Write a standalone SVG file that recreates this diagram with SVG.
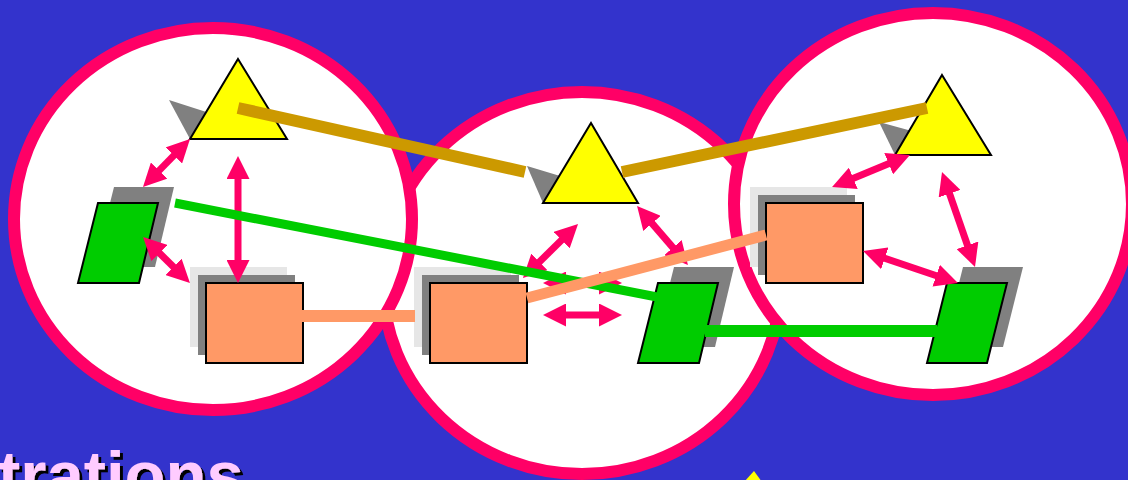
<svg xmlns="http://www.w3.org/2000/svg" width="1128" height="480" viewBox="0 0 1128 480">
<style>
.ring{fill:#ffffff;stroke:#ff0066;stroke-width:12}
.tri{fill:#ffff00;stroke:#000000;stroke-width:2;stroke-linejoin:miter}
.tsh{fill:#808080}
.par{fill:#00cc00;stroke:#000000;stroke-width:2}
.psh{fill:#808080}
.sq{fill:#ff9966;stroke:#000000;stroke-width:2}
.sh1{fill:#e6e6e6}
.sh2{fill:#808080}
.arr{stroke:#ff0066;stroke-width:7;fill:none;marker-start:url(#ah);marker-end:url(#ah)}
.gold{stroke:#cc9900;stroke-width:12;fill:none}
.grn{stroke:#00cc00;fill:none}
.org{stroke:#ff9966;fill:none}
.ttl{font-family:"Liberation Sans",Arial,sans-serif;font-weight:bold;font-size:67px;fill:#ffccff;filter:url(#tshadow)}
</style>
<defs>
<marker id="ah" markerUnits="userSpaceOnUse" viewBox="0 0 23 23" markerWidth="23" markerHeight="23" refX="5" refY="11.5" orient="auto-start-reverse">
<path d="M0,0 L23,11.5 L0,23 Z" fill="#ff0066"/>
</marker>
<filter id="tshadow" x="-10%" y="-20%" width="120%" height="140%">
<feOffset in="SourceAlpha" dx="3" dy="3" result="off"/>
<feMerge><feMergeNode in="off"/><feMergeNode in="SourceGraphic"/></feMerge>
</filter>
</defs>
<rect x="0" y="0" width="1128" height="480" fill="#3333cc"/>

<g id="circle-middle">
<ellipse class="ring" cx="582" cy="283" rx="199" ry="191"/>
<polygon class="tsh" points="527,166 580,182 543,203"/>
<polygon class="tri" points="591,123 638,203 543,203"/>
<rect class="sh1" x="414" y="267" width="97" height="80"/>
<rect class="sh2" x="422" y="275" width="97" height="80"/>
<rect class="sq" x="430" y="283" width="97" height="80"/>
<polygon class="psh" points="674,267 734,267 715,347 654,347"/>
<polygon class="par" points="658,283 718,283 699,363 638,363"/>
<line class="arr" x1="561" y1="283" x2="604" y2="283"/>
<line class="arr" x1="535.8" y1="265.4" x2="565.2" y2="236.6"/>
<line class="arr" x1="648.8" y1="219.6" x2="676.2" y2="251.4"/>
<line class="arr" x1="561" y1="315" x2="604" y2="315"/>
</g>

<g id="circle-left">
<ellipse class="ring" cx="213" cy="219" rx="199" ry="191"/>
<polygon class="tsh" points="169,100 225,118 190,139"/>
<polygon class="tri" points="238,59 287,139 190,139"/>
<polygon class="psh" points="114,187 174,187 155,267 94,267"/>
<polygon class="par" points="98,203 158,203 139,283 78,283"/>
<rect class="sh1" x="190" y="267" width="97" height="80"/>
<rect class="sh2" x="198" y="275" width="97" height="80"/>
<rect class="sq" x="206" y="283" width="97" height="80"/>
<line class="arr" x1="177.4" y1="151.9" x2="155.6" y2="174.1"/>
<line class="arr" x1="238" y1="174" x2="238" y2="265"/>
<line class="arr" x1="155.9" y1="249.6" x2="177.1" y2="270.4"/>
</g>

<g id="circle-right">
<ellipse class="ring" cx="933" cy="204" rx="199" ry="191"/>
<polygon class="tsh" points="879,122 930,136 895,155"/>
<polygon class="tri" points="942,75 991,155 895,155"/>
<rect class="sh1" x="750" y="187" width="97" height="80"/>
<rect class="sh2" x="758" y="195" width="97" height="80"/>
<rect class="sq" x="766" y="203" width="97" height="80"/>
<polygon class="psh" points="963,267 1023,267 1003,347 943,347"/>
<polygon class="par" points="947,283 1007,283 987,363 927,363"/>
<line class="arr" x1="893.3" y1="161.8" x2="848.7" y2="180.2"/>
<line class="arr" x1="947.9" y1="189" x2="969.1" y2="250"/>
<line class="arr" x1="880.1" y1="256.7" x2="940.9" y2="277.3"/>
</g>

<g id="connectors">
<line class="gold" x1="238" y1="108" x2="525" y2="172"/>
<line class="gold" x1="622" y1="172" x2="927" y2="108"/>
<line class="grn" stroke-width="9" x1="175" y1="203" x2="657" y2="297"/>
<line class="grn" stroke-width="12" x1="705" y1="331" x2="937" y2="331"/>
<line class="org" stroke-width="12" x1="302" y1="316" x2="415" y2="316"/>
<line class="org" stroke-width="11" x1="527" y1="298" x2="766" y2="235"/>
</g>

<g id="title">
<text class="ttl" x="-2" y="498">trations</text>
</g>
<polygon fill="#ffff00" points="754,471 744,482 762,482"/>
</svg>
